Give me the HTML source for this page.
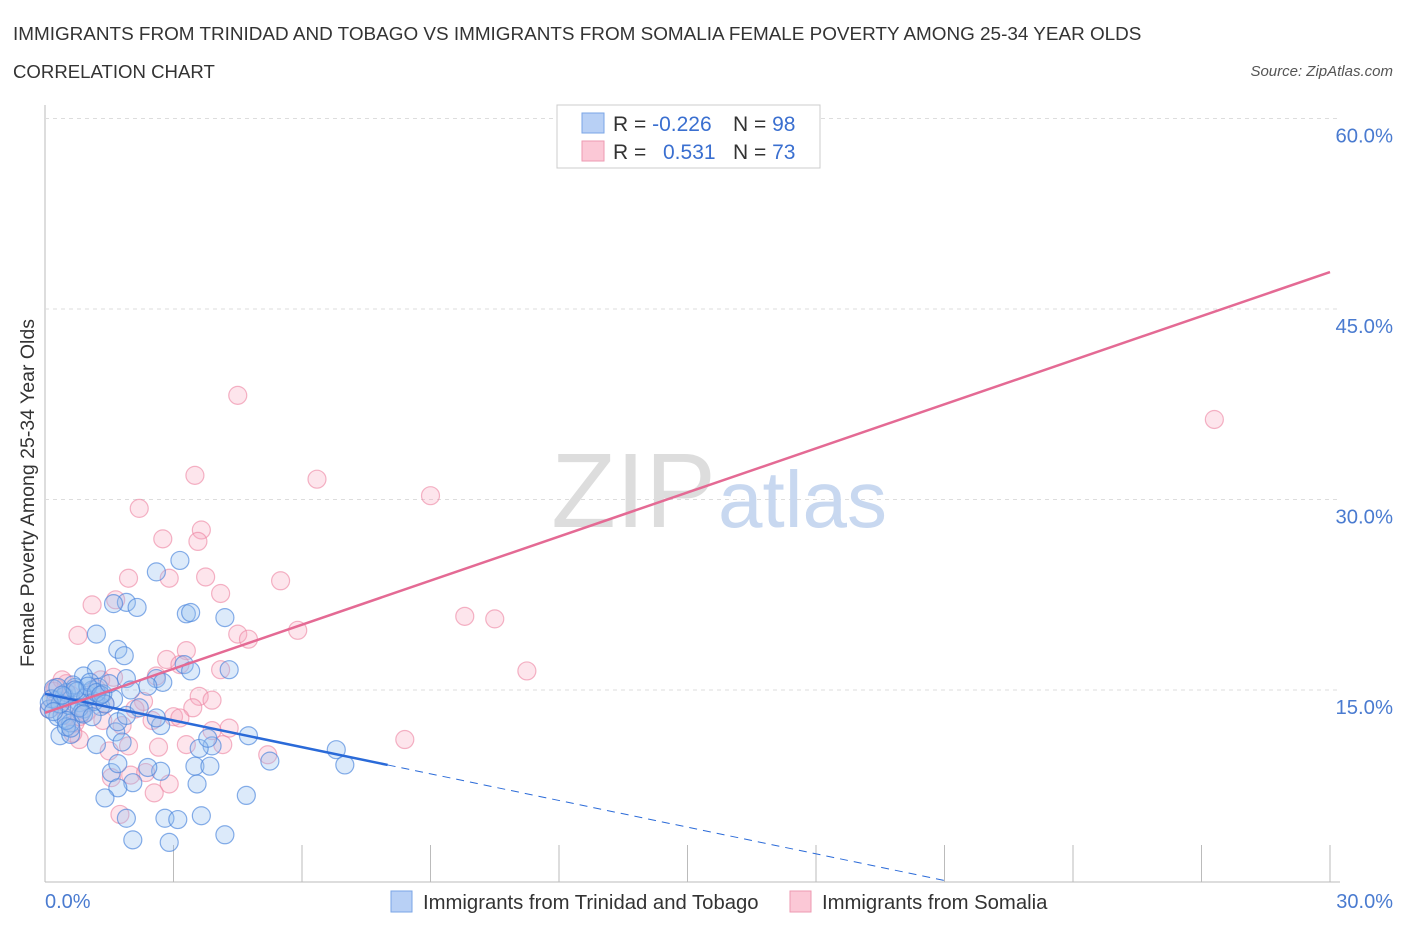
<!DOCTYPE html>
<html><head><meta charset="utf-8"><style>
body{margin:0;background:#fff;font-family:"Liberation Sans",sans-serif;}
svg text{font-family:"Liberation Sans",sans-serif;}
</style></head><body>
<svg id="chart" width="1406" height="930" xmlns="http://www.w3.org/2000/svg">
<text x="13" y="40" font-size="18.9" fill="#333">IMMIGRANTS FROM TRINIDAD AND TOBAGO VS IMMIGRANTS FROM SOMALIA FEMALE POVERTY AMONG 25-34 YEAR OLDS</text>
<text x="13" y="78" font-size="18.6" fill="#333">CORRELATION CHART</text>
<text x="1393" y="76" font-size="15" fill="#555" font-style="italic" text-anchor="end">Source: ZipAtlas.com</text>
<text x="34" y="493" font-size="19.5" fill="#333" text-anchor="middle" transform="rotate(-90 34 493)">Female Poverty Among 25-34 Year Olds</text>
<g id="grid"></g>
<text x="716" y="527" font-size="106" fill="#ddd" text-anchor="end" font-family="Liberation Serif">ZIP</text>
<text x="718" y="527" font-size="80" fill="#c8d8f0">atlas</text>
<g id="pts"></g>
<g id="lines"></g>
<g>
<rect x="557" y="105" width="263" height="63" fill="#fff" stroke="#ccc"/>
<rect x="582" y="113" width="22" height="20" fill="#b8d0f5" stroke="#7aa5e6"/>
<rect x="582" y="141" width="22" height="20" fill="#fbc8d6" stroke="#ee9ab2"/>
<text x="613" y="131" font-size="21" fill="#333">R = <tspan fill="#3a6fd0">-0.226</tspan></text>
<text x="733" y="131" font-size="21" fill="#333">N = <tspan fill="#3a6fd0">98</tspan></text>
<text x="613" y="159" font-size="21" fill="#333">R = </text>
<text x="663" y="159" font-size="21" fill="#3a6fd0">0.531</text>
<text x="733" y="159" font-size="21" fill="#333">N = <tspan fill="#3a6fd0">73</tspan></text>
</g>
<g>
<rect x="391" y="891" width="21" height="21" fill="#b8d0f5" stroke="#7aa5e6"/>
<text x="423" y="909" font-size="20.3" fill="#333">Immigrants from Trinidad and Tobago</text>
<rect x="790" y="891" width="21" height="21" fill="#fbc8d6" stroke="#ee9ab2"/>
<text x="822" y="909" font-size="20.3" fill="#333">Immigrants from Somalia</text>
</g>
</svg>
<script>
const yTicks=[15,30,45,60];
const yTickLabels=["15.0%","30.0%","45.0%","60.0%"];
const xTickLabels=["0.0%","30.0%"];
const blueX=[3.15,2.6,1.9,1.6,2.15,3.3,3.4,4.2,1.2,1.7,1.85,1.2,0.9,3.25,3.4,4.3,1.9,2.6,2.75,2.0,2.4,1.3,1.6,1.65,1.2,1.8,2.7,2.6,4.75,3.9,3.6,3.8,6.8,7.0,5.25,3.5,3.85,2.7,2.4,1.55,1.7,2.05,1.7,1.4,3.55,4.7,1.9,2.8,3.1,3.65,2.05,2.9,4.2,0.35,0.6,0.1,0.25,0.4,0.5,0.7,0.8,0.9,1.0,1.1,0.2,0.3,0.45,0.55,0.65,0.75,0.85,0.95,1.05,1.15,1.25,1.35,0.15,0.35,0.6,0.8,1.0,1.2,1.4,0.5,0.7,0.9,1.3,1.5,0.3,0.5,0.1,0.2,1.7,1.9,2.2,0.4,0.6,1.1];
const blueY=[25.2,24.3,21.9,21.8,21.5,21.0,21.1,20.7,19.4,18.2,17.7,16.6,16.1,17.0,16.5,16.6,15.9,15.9,15.6,15.0,15.3,13.7,14.3,11.7,10.7,10.9,12.2,12.8,11.4,10.6,10.4,11.2,10.3,9.1,9.4,9.0,9.0,8.6,8.9,8.5,9.2,7.7,7.3,6.5,7.6,6.7,4.9,4.9,4.8,5.1,3.2,3.0,3.6,11.4,11.5,13.5,14.2,13.0,14.8,15.2,14.0,13.5,14.6,15.0,15.1,12.9,14.5,13.8,15.4,14.9,13.2,14.4,15.6,14.1,15.2,14.7,14.3,13.9,12.4,13.6,15.3,14.8,13.9,12.1,15.0,13.1,14.6,15.5,15.2,12.6,14.0,13.3,12.5,13.0,13.6,14.6,12.0,12.9];
const pinkX=[14.3,4.5,27.3,3.5,6.35,9.0,2.2,2.75,3.65,3.57,3.75,2.9,1.95,5.5,4.1,1.65,1.1,9.8,10.5,5.9,4.5,4.75,0.77,3.3,2.84,3.15,4.1,11.25,1.3,0.5,3.6,3.9,3.45,3.0,3.15,2.5,4.3,3.9,1.35,0.8,8.4,3.3,4.15,2.65,1.95,5.2,1.5,1.55,2.0,2.35,2.9,2.55,1.75,0.35,0.6,0.95,0.2,0.1,0.4,0.7,1.0,1.2,1.4,0.3,0.5,0.8,2.3,1.8,2.1,0.25,0.65,1.6,2.6];
const pinkY=[58.2,38.2,36.3,31.9,31.6,30.3,29.3,26.9,27.6,26.7,23.9,23.8,23.8,23.6,22.6,22.1,21.7,20.8,20.6,19.7,19.4,19.0,19.3,18.1,17.4,17.0,16.6,16.5,15.8,15.5,14.5,14.2,13.6,12.9,12.8,12.6,12.0,11.8,12.6,11.1,11.1,10.7,10.7,10.5,10.6,9.9,10.2,8.1,8.3,8.5,7.6,6.9,5.2,13.8,14.6,13.2,14.9,13.5,15.8,12.4,14.0,15.1,13.9,14.2,13.0,12.9,14.1,12.2,13.5,15.2,11.6,16.0,16.1];
const blueLine=[14.7,-0.7,8.0];   // intercept, slope per 1%, solid end x
const pinkLine=[13.2,1.157];
const NS="http://www.w3.org/2000/svg";
const X0=45,X1=1330,Y0=880.5,PY=12.7;
const sx=v=>X0+(v/30)*(X1-X0);
const sy=v=>Y0-v*PY;
function mk(t,a,p){const e=document.createElementNS(NS,t);for(const k in a)e.setAttribute(k,a[k]);p.appendChild(e);return e;}
const grid=document.getElementById('grid');
let ax=mk('line',{x1:X0,y1:105,x2:X0,y2:882,stroke:'#bbb'},grid);


let bx=mk('line',{x1:X0,y1:882,x2:1340,y2:882,stroke:'#bbb'},grid);


for(let k=0;k<=10;k++){const x=X0+k*(X1-X0)/10;const t=mk('line',{x1:x,y1:845,x2:x,y2:882,stroke:'#bbb'},grid);

}
yTicks.forEach((v,i)=>{const g=mk('line',{x1:X0,y1:sy(v),x2:1340,y2:sy(v),stroke:'#ddd','stroke-dasharray':'4,4'},grid);


const t=mk('text',{x:1393,y:sy(v)+24,'font-size':20.3,fill:'#4a7bd0','text-anchor':'end'},grid);t.textContent=yTickLabels[i];

});
[[0,45,'start'],[30,1393,'end']].forEach((d,i)=>{const t=mk('text',{x:d[1],y:908,'font-size':20,fill:'#4a7bd0','text-anchor':d[2]},grid);t.textContent=xTickLabels[i];

});
const pts=document.getElementById('pts');
pinkX.forEach((v,i)=>{const c=mk('circle',{cx:sx(v),cy:sy(pinkY[i]),r:9,fill:'rgba(248,170,192,0.3)',stroke:'rgba(236,130,160,0.6)','stroke-width':1.2},pts);

});
blueX.forEach((v,i)=>{const c=mk('circle',{cx:sx(v),cy:sy(blueY[i]),r:9,fill:'rgba(150,190,240,0.33)',stroke:'rgba(70,130,220,0.65)','stroke-width':1.2},pts);

});
const L=document.getElementById('lines');
const bl=v=>blueLine[0]+blueLine[1]*v;
let b1=mk('line',{x1:sx(0),y1:sy(bl(0)),x2:sx(blueLine[2]),y2:sy(bl(blueLine[2])),stroke:'#2a6ad8','stroke-width':2.5},L);


const xe=Math.min(30,(blueLine[0])/-blueLine[1]);
let b2=mk('line',{x1:sx(blueLine[2]),y1:sy(bl(blueLine[2])),x2:sx(xe),y2:sy(bl(xe)),stroke:'#2a6ad8','stroke-width':1,'stroke-dasharray':'8,6'},L);


let p1=mk('line',{x1:sx(0),y1:sy(pinkLine[0]),x2:sx(30),y2:sy(pinkLine[0]+30*pinkLine[1]),stroke:'#e46a94','stroke-width':2.5},L);


</script>
</body></html>
